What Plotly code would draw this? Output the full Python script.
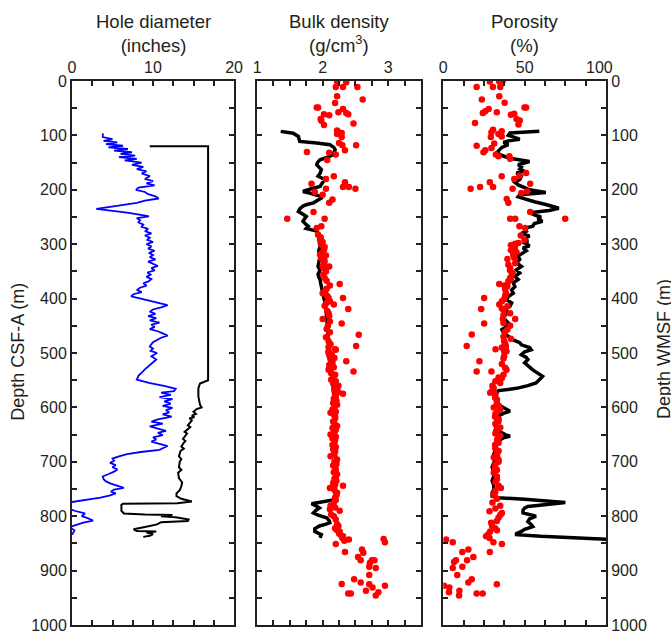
import plotly.graph_objects as go

# ---------------- Hole diameter ----------------
cal_depth = [96,103,107,110,113,116,119,122,125,128,131,134,137,140,143,146,150,154,158,162,166,170,175,180,184,188,192,196,200,204,208,212,216,220,224,228,232,235,238,242,246,249,252,256,260,264,268,272,276,280,284,288,292,296,300,304,308,312,316,320,324,328,332,336,340,344,348,352,356,360,364,368,372,376,380,384,388,392,396,400,404,408,412,416,420,424,428,432,436,440,444,448,452,456,460,464,468,472,476,480,484,488,492,496,500,506,512,518,524,530,536,542,549,555,561,566,570,573,577,581,585,589,593,597,601,605,609,613,617,622,626,630,635,639,643,647,651,655,659,663,667,671,675,678,682,686,690,694,698,702,706,710,714,718,722,727,732,736,740,744,748,751,755,758,762,766,770,775,785,790,795,800,804,808,812,816,820,826,832,838]
cal_inch = [3.8,3.8,5.0,3.9,5.6,4.2,6.3,4.5,6.9,5.2,7.4,6.0,7.8,5.8,8.0,6.5,8.6,7.4,8.8,8.0,9.2,8.6,9.6,9.0,10.0,9.2,10.2,8.2,7.9,9.0,9.4,10.3,10.7,9.0,8.0,6.5,4.5,3.0,4.8,6.8,8.5,9.5,8.0,8.4,8.2,8.8,8.6,9.4,9.0,9.8,9.0,9.6,9.3,10.0,9.2,9.8,9.4,10.2,9.5,10.0,9.6,10.3,9.4,10.0,10.6,9.8,10.2,9.3,9.7,9.2,9.8,9.5,8.8,9.2,8.4,8.0,8.6,7.6,7.3,8.5,9.6,10.5,11.8,11.0,10.0,9.6,10.3,9.4,10.4,9.6,10.8,9.8,10.2,9.6,10.6,11.2,11.8,11.0,10.4,10.0,9.8,9.6,10.0,9.7,10.5,9.8,10.4,9.9,9.4,9.0,8.6,8.2,8.0,9.5,11.5,12.8,12.6,11.0,12.2,10.8,12.4,11.4,12.2,11.2,12.4,11.6,12.0,11.2,12.3,10.6,9.8,11.2,9.6,10.8,11.6,10.6,11.2,10.0,10.4,9.8,11.0,11.8,11.2,10.8,8.5,6.8,5.8,5.0,5.2,4.7,5.4,5.0,5.6,5.2,4.6,3.8,3.9,4.2,4.8,5.5,6.4,5.2,4.8,5.4,4.6,3.5,1.5,-0.5,-0.5,0.3,1.6,1.2,2.0,2.6,1.4,0.4,-0.3,0.3,0.1,-0.5]

bit_depth = [120,120,550,553,556,565,580,595,600,603,608,612,615,618,620,624,628,633,636,640,645,648,652,658,662,665,672,676,680,690,695,700,710,715,720,730,738,745,752,758,763,768,773,776,777,779,790,795,797,798,800,802,806,809,811,815,820,824,827,828,830,833,836,838]
bit_inch = [9.6,16.8,16.8,16.2,15.8,15.6,15.6,15.8,16.0,15.4,15.0,15.3,14.8,15.1,14.5,14.8,14.6,14.3,14.6,14.3,13.9,14.2,14.0,13.7,14.0,13.8,13.5,13.8,13.4,13.2,13.5,13.3,13.2,13.5,13.1,13.2,13.6,13.5,13.3,12.9,12.9,13.5,14.8,13.0,6.3,6.1,6.1,6.4,9.0,12.4,11.0,12.8,14.4,14.3,11.0,10.5,9.0,7.6,8.0,10.4,9.2,10.0,9.6,8.8]

# ---------------- Bulk density ----------------
rho_log_depth = [92.6,96,102,111,114,117,122,126,135,140,145,150,154,158,163,170,175,181,188,194,199,203,206,209,212,215,219,224,227,230,235,240,245,249,254,258,263,267,271,276,280,285,292,298,304,312,322,330,336,341,348,355,360,365,372,377,384,390,400,410,420,430,440,450,460,470,480,490,500,520,540,560,580,600,620,640,660,680,700,720,740,760,770,774,777,781,785,789,794,798,803,808,812,815,818,823,828,831,834,837,840]
rho_log = [1.36,1.55,1.63,1.65,1.91,2.11,2.17,2.19,2.16,2.08,1.96,1.92,1.91,1.95,1.98,1.96,1.93,2.03,2.00,1.96,1.80,1.70,1.80,1.91,1.97,1.98,1.93,1.86,1.76,1.70,1.65,1.63,1.70,1.75,1.72,1.70,1.74,1.78,1.75,1.91,1.93,1.93,1.96,1.95,1.96,1.94,1.96,1.95,1.93,1.93,1.96,1.93,1.94,1.96,1.97,1.98,2.00,2.01,2.03,2.04,2.05,2.06,2.06,2.07,2.08,2.08,2.09,2.10,2.11,2.12,2.14,2.16,2.17,2.18,2.18,2.19,2.19,2.20,2.20,2.20,2.19,2.19,2.16,2.00,1.83,1.90,1.95,1.90,1.86,1.93,2.06,2.10,2.11,2.04,1.95,1.88,1.88,1.93,1.98,1.97,1.96]

rho_core_depth = [0.7,2.5,11,11,11,28,34,40.5,48.5,48.5,51.5,57.6,59,61,61,63,70,73,78,81,91,94.5,95.6,97.5,103,114,118,118,127.5,130.6,132,135,145,175,180,186,189,195,195,198,198,204,209,218,224,241,253,253,267,270,282.5,292,301,310,319,321,331,341,341,350,362,373,376,382,390,399,399,405,411,419,413,427,437.5,442,446,456,466.5,471,478.5,487,493,500,506,
                  497,494,515,506,531,534,540,549,560,575,580,592,595,610,617,626,641,650,660,669,690,696,711,727,739,744,748,757,766,787,790,797,806,815,822,828,837,843,851,842,848,861,867,866,875,881,881,881,886,893,895,908,916,922,924.5,925,928,931,937,942,942,940,946,
                  287,296,305,315,326,336,346,356,367,386,395,408,423,432,450,462,484,489,
                  503,509,512,518,522,526,537,544,552,556,564,568,572,578,584,588,600,604,608,613,620,630,634,638,645,654,657,664,673,677,681,686,700,704,707,715,719,723,731,735,742,752,761,770,775,781,784,800,818,825,832,835,840,845]
rho_core = [2.22,2.36,2.20,2.31,2.53,2.22,2.61,2.19,1.91,1.93,2.31,2.24,2.36,2.39,2.02,2.10,1.97,1.98,2.47,2.02,2.22,2.25,2.29,2.22,2.29,2.25,2.51,2.30,2.34,1.76,2.10,2.20,2.07,2.17,2.05,2.34,1.83,2.31,2.40,2.50,2.05,1.88,2.00,2.15,2.10,1.86,1.46,2.03,1.98,1.91,1.93,1.96,1.98,2.02,1.96,2.05,2.03,2.00,2.10,2.05,2.03,2.26,2.11,2.06,2.00,2.09,2.31,2.11,2.17,2.39,2.03,2.09,2.00,2.11,2.29,2.06,2.55,2.05,2.09,2.51,2.19,2.09,2.11,
            2.09,2.20,2.36,2.11,2.09,2.47,2.19,2.13,2.24,2.31,2.20,2.16,2.22,2.12,2.19,2.16,2.20,2.12,2.19,2.15,2.12,2.22,2.19,2.20,2.16,2.31,2.11,2.22,2.19,2.11,2.26,2.13,2.20,2.22,2.19,2.26,2.31,2.40,2.20,2.93,2.95,2.60,2.62,2.34,2.54,2.58,2.75,2.79,2.72,2.71,2.81,2.71,2.48,2.58,2.29,2.71,2.95,2.76,2.66,2.39,2.43,2.85,2.81,
            1.97,2.00,2.03,2.00,1.98,2.02,2.04,2.01,2.06,2.04,2.07,2.06,2.07,2.10,2.08,2.11,2.12,2.09,
            2.14,2.18,2.12,2.15,2.10,2.17,2.13,2.17,2.20,2.16,2.22,2.18,2.24,2.19,2.17,2.21,2.18,2.15,2.20,2.17,2.19,2.18,2.22,2.15,2.18,2.20,2.15,2.18,2.20,2.16,2.19,2.17,2.18,2.21,2.16,2.20,2.17,2.22,2.18,2.21,2.19,2.18,2.21,2.20,2.17,2.12,2.19,2.17,2.24,2.21,2.25,2.28,2.30,2.33]

# ---------------- Porosity ----------------
phi_log_depth = [92.6,95.6,100,104,107,110,113,117,122,128,132,137,142,148,151,154,158,162,166,169,175,181,186,191,196,200,205,209,213,218,222,227,231,234,238,242,246,250,254,258,262,267,271,276,280,285,290,294,298,303,307,312,316,322,328,334,341,347,353,359,365,371,378,384,390,396,402,408,414,420,426,432,439,445,451,457,463,470,476,481,485,490,494,498,503,508,512,518,524,531,537,543,549,555,560,565,569,573,577,582,587,592,597,602,607,611,617,622,628,635,640,645,650,653,656,663,670,678,686,694,702,710,718,727,735,743,751,757,763,766,769,772,775,777,779,782,785,789,794,798,800,805,810,815,819,824,828,832,834,837,839,840,843]
phi_log = [59,41,40,44,47,40,37,40,36,34,33,36,41,53,49,46,48,47,50,45,48,47,44,46,50,53,63,47,46,51,56,63,68,71,65,53,56,60,58,61,56,55,50,51,48,53,49,52,50,53,49,51,49,46,47,45,48,45,47,44,46,43,44,42,43,40,39,42,41,38,40,37,38,40,39,36,37,40,43,47,48,53,54,50,48,51,52,50,52,55,58,61,59,57,52,45,34,33,32,33,32,33,35,38,41,37,33,33,32,32,33,35,38,41,37,33,32,32,31,32,31,30,31,31,30,31,31,30,30,34,50,65,75,68,59,52,50,49,49,56,57,53,52,54,55,50,48,45,45,60,80,95,105]

phi_core_depth = [0.7,0.7,0.7,11,11,11,28,34,40,51.5,55.8,59,57.6,48.5,48.5,62,60,70,72.4,77,80,89.5,94,97.5,92.6,103,102,115,119,123,127.5,131,135,138.5,138.5,143,169,174,175,180,189,186,195,198,195,198,206,203,217,224,241,253,253,253,267,270,284,292,302,299,298,311,315,325,327,335,344,353,362,365,373,376,377,390,399,401,411,414,419,420,427,437.5,437.5,446,450,457,466,474,487,478.5,488,493,497,506,
                  494,497,515,534,531,540,534,546,555,560,573,582,592,604,617,626,644,656,669,684,696,711,727,748,757,775,781,791,794,803,809,812,822,828,833,837,840,848,851,866,843,848,861,866,875,881,884,881,893,895,908,916,922,925,928,931,940,937,946,942,942,
                  306,320,338,348,357,368,383,395,405,418,430,445,461,470,483,490,
                  510,520,527,545,552,565,570,576,586,597,600,609,612,622,630,637,640,648,652,660,665,675,680,688,692,700,705,715,720,732,737,744,753,760,768,786,798,818,826]
phi_core = [28.6,34.4,36.4,30.5,35,20.5,34.4,23.7,37.7,27.9,25.8,24.3,32.9,49.9,50.9,41.5,43.6,45,47,19.5,46.2,30.6,29.6,33.9,35.9,29.2,35.9,31.3,20.5,29.6,25.8,24.7,32.3,33.9,40.6,41.1,50.9,46.8,35.9,43.6,53.4,28.6,22.6,16.8,30.6,42.6,48,51.5,39,40,53.4,41.1,44.2,74.9,46.8,50.3,47.6,49.9,41.5,44.2,46.2,41.5,45,43.6,39.4,44.2,41.1,42.6,41.1,41.5,34.4,37.6,39.4,38.5,25.1,37.4,34.4,39.4,23.3,37,41.1,44.2,36.6,25.1,41.1,39.4,17.5,41.5,14.4,37.4,38.5,32.1,37.4,37.4,
            37.3,38.9,22.2,20.5,38.9,37.0,29.6,36.0,35.0,30.2,28.8,31.8,32.9,35.0,31.8,33.9,32.5,33.9,31.8,32.9,33.9,31.8,32.9,35.4,31.8,30.2,35,28.4,36.0,33.9,32.9,29.4,31.8,28.8,27.7,26.3,28.4,30.8,36.0,28.6,1.7,5.8,15.4,11.7,18.5,7.8,6.6,14.6,11.7,5.8,8.6,17.5,15.4,32.9,0.5,3.7,3.5,9.9,9.7,20.5,24.2,
            44,43,40,41,42,40,38,38,36,36,37,37,38,37,38,36,
            37,36,38,34,32,31,30,32,33,34,31,33,32,34,32,35,33,32,35,33,34,32,34,33,31,34,32,33,31,33,32,34,32,31,33,32,35,30,33]

# ---------------- Axis ticks ----------------
depth_ticks = list(range(0, 1001, 50))
depth_labels = [str(v) if v % 100 == 0 else "" for v in depth_ticks]
hd_ticks = [0, 2.5, 5, 7.5, 10, 12.5, 15, 17.5, 20]
hd_labels = ["0", "", "", "", "10", "", "", "", "20"]
rho_ticks = [1, 1.25, 1.5, 1.75, 2, 2.25, 2.5, 2.75, 3, 3.25, 3.5]
rho_labels = ["1", "", "", "", "2", "", "", "", "3", "", ""]
phi_ticks = [0, 12.5, 25, 37.5, 50, 62.5, 75, 87.5, 100]
phi_labels = ["0", "", "", "", "50", "", "", "", "100\u00a0\u00a0\u00a0"]

INK = "#231f20"
FONT = "Liberation Sans, Arial, Helvetica, sans-serif"

fig = go.Figure()
fig.add_trace(go.Scatter(x=cal_inch, y=cal_depth, mode="lines", line=dict(color="#0000ff", width=1.8), xaxis="x", yaxis="y"))
fig.add_trace(go.Scatter(x=bit_inch, y=bit_depth, mode="lines", line=dict(color="black", width=2), xaxis="x", yaxis="y"))
fig.add_trace(go.Scatter(x=rho_log, y=rho_log_depth, mode="lines", line=dict(color="black", width=3.5), xaxis="x2", yaxis="y2"))
fig.add_trace(go.Scatter(x=rho_core, y=rho_core_depth, mode="markers", marker=dict(color="#ff0000", size=6.5), xaxis="x2", yaxis="y2"))
fig.add_trace(go.Scatter(x=phi_log, y=phi_log_depth, mode="lines", line=dict(color="black", width=3.5), xaxis="x3", yaxis="y3"))
fig.add_trace(go.Scatter(x=phi_core, y=phi_core_depth, mode="markers", marker=dict(color="#ff0000", size=6.5), xaxis="x3", yaxis="y3"))

common_x = dict(side="top", ticks="inside", ticklen=5, tickwidth=1.5, tickcolor=INK, mirror="ticks",
                showline=True, linecolor=INK, linewidth=2, showgrid=False, zeroline=False, automargin=False,
                ticklabeloverflow="allow", tickfont=dict(size=16, color=INK, family=FONT))
common_y = dict(range=[1000, 0], tickvals=depth_ticks, ticktext=depth_labels, ticks="inside", ticklen=5,
                tickwidth=1.5, tickcolor=INK, mirror="ticks", showline=True, linecolor=INK, linewidth=2,
                showgrid=False, zeroline=False, automargin=False, ticklabeloverflow="allow",
                tickfont=dict(size=16, color=INK, family=FONT))

fig.update_layout(
    width=671, height=632,
    margin=dict(l=72, r=65, t=81, b=7),
    paper_bgcolor="white", plot_bgcolor="white",
    showlegend=False,
    font=dict(family=FONT, color=INK),
    xaxis=dict(domain=[0, 0.3034], range=[0, 20], tickvals=hd_ticks, ticktext=hd_labels, anchor="y", **common_x),
    xaxis2=dict(domain=[0.3466, 0.6536], range=[1, 3.5], tickvals=rho_ticks, ticktext=rho_labels, anchor="y2", **common_x),
    xaxis3=dict(domain=[0.6953, 1.0], range=[0, 100], tickvals=phi_ticks, ticktext=phi_labels, anchor="y3", **common_x),
    yaxis=dict(anchor="x", side="left", showticklabels=True, **common_y),
    yaxis2=dict(anchor="x2", matches="y", showticklabels=False, **common_y),
    yaxis3=dict(anchor="x3", matches="y", side="right", showticklabels=True, **common_y),
)

titles = [(0.1517, "Hole diameter<br>(inches)"), (0.5, "Bulk density<br>(g/cm<sup>3</sup>)"), (0.8476, "Porosity<br>(%)")]
for xc, txt in titles:
    fig.add_annotation(x=xc, y=1.0873, xref="paper", yref="paper", text=txt, showarrow=False,
                       xanchor="center", yanchor="middle", font=dict(size=18.5, color=INK, family=FONT))
fig.add_annotation(x=-0.1004, y=0.503, xref="paper", yref="paper", text="Depth CSF-A (m)", textangle=-90,
                   showarrow=False, xanchor="center", yanchor="middle", font=dict(size=18, color=INK, family=FONT))
fig.add_annotation(x=1.1073, y=0.508, xref="paper", yref="paper", text="Depth WMSF (m)", textangle=-90,
                   showarrow=False, xanchor="center", yanchor="middle", font=dict(size=18, color=INK, family=FONT))

fig.write_html("out.html", config={"displayModeBar": False},
               post_script="document.body.style.margin='0px';")
